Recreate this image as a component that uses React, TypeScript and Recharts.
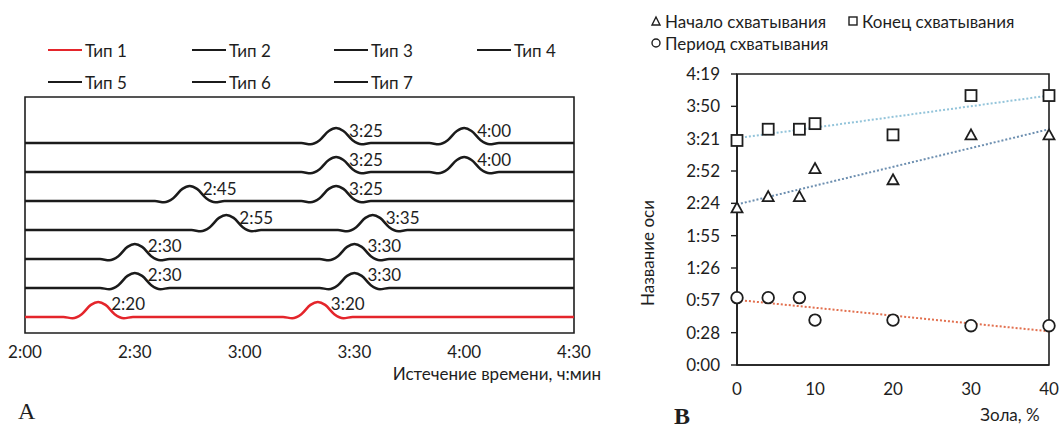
import React from "react";
import {
  LineChart,
  ComposedChart,
  Line,
  Scatter,
  XAxis,
  YAxis,
  ReferenceArea,
  LabelList,
} from "recharts";

// panel A: time of the two peaks per type, minutes since 0:00
const typeNames = ["Тип 1", "Тип 2", "Тип 3", "Тип 4", "Тип 5", "Тип 6", "Тип 7"];
const typeColors = ["#e4252b", "#1b1b1b", "#1b1b1b", "#1b1b1b", "#1b1b1b", "#1b1b1b", "#1b1b1b"];
const startPeaks = [140, 150, 150, 175, 165, 205, 205];
const endPeaks = [200, 210, 210, 215, 205, 240, 240];

// shape of one bump (minutes from peak, height in row units)
const bumpDt = [-9.5, -7, -4.5, -2, 0, 2, 4.5, 7, 9.5];
const bumpDy = [0, -0.04, 0.1, 0.42, 0.52, 0.42, 0.1, -0.04, 0];

const timeTicksA = [120, 150, 180, 210, 240, 270];
const timeLabelsA = ["2:00", "2:30", "3:00", "3:30", "4:00", "4:30"];

// panel B: ash content vs setting times (minutes)
const ashPct = [0, 4, 8, 10, 20, 30, 40];
const setStart = [140, 150, 150, 175, 165, 205, 205];
const setEnd = [200, 210, 210, 215, 205, 240, 240];
const setPeriod = [60, 60, 60, 40, 40, 35, 35];

const trendX = [0, 40];
const trendStart = [143, 210];
const trendEnd = [202, 240];
const trendPeriod = [58, 30];

const yTicksB = [0, 28.8, 57.6, 86.4, 115.2, 144, 172.8, 201.6, 230.4, 259.2];
const yLabelsB = ["0:00", "0:28", "0:57", "1:26", "1:55", "2:24", "2:52", "3:21", "3:50", "4:19"];
const xTicksB = [0, 10, 20, 30, 40];

const FONT = "Lato, 'Open Sans', sans-serif";
const INK = "#1e1e1e";
const FS = 17;

function hm(min: number) {
  const h = Math.floor(min / 60);
  const m = Math.floor(min % 60);
  return `${h}:${m < 10 ? "0" : ""}${m}`;
}

function buildRow(level: number, peaks: number[]) {
  const pts: { t: number; v: number; tag?: string }[] = [{ t: 120, v: level }];
  peaks.forEach((p) =>
    bumpDt.forEach((dt, i) =>
      pts.push({ t: p + dt, v: level + bumpDy[i], tag: dt === 0 ? hm(p) : undefined })
    )
  );
  pts.push({ t: 270, v: level });
  return pts;
}

const rows = typeNames.map((name, i) => ({
  name,
  color: typeColors[i],
  data: buildRow(i + 1, [startPeaks[i], endPeaks[i]]),
}));

const zip = (xs: number[], ys: number[]) => xs.map((x, i) => ({ x, y: ys[i] }));

function PeakLabel(p: any) {
  if (!p.value) return null;
  return (
    <text x={p.x + 13} y={p.y + 2} dominantBaseline="central" fontSize={FS} fontFamily={FONT} fill={INK}>
      {p.value}
    </text>
  );
}

function Tri(p: any) {
  const { cx, cy } = p;
  return (
    <path
      d={`M${cx},${cy - 5.5} L${cx + 5.5},${cy + 4.5} L${cx - 5.5},${cy + 4.5} Z`}
      fill="#fff"
      stroke={INK}
      strokeWidth={1.8}
    />
  );
}
function Sq(p: any) {
  const { cx, cy } = p;
  return <rect x={cx - 5.5} y={cy - 5.5} width={11} height={11} fill="#fff" stroke={INK} strokeWidth={1.8} />;
}
function Circ(p: any) {
  const { cx, cy } = p;
  return <circle cx={cx} cy={cy} r={5.8} fill="#fff" stroke={INK} strokeWidth={1.8} />;
}

const legendCols = [48, 192, 334, 477];
const legendRows = [50, 82];

const legendB = [
  { name: "Начало схватывания", left: 650, top: 21, mark: <path d="M6,2 L10,10 L2,10 Z" /> },
  { name: "Конец схватывания", left: 847, top: 21, mark: <rect x={2} y={2} width={8} height={8} /> },
  { name: "Период схватывания", left: 650, top: 43, mark: <circle cx={6} cy={6} r={4} /> },
];

export default function App() {
  return (
    <div style={{ position: "relative", width: 1061, height: 432, background: "#fff", fontFamily: FONT, color: INK }}>
      <style>{"body{margin:0}"}</style>

      {/* panel A legend */}
      {rows.map((r, i) => (
        <div
          key={r.name}
          style={{
            position: "absolute",
            left: legendCols[i % 4],
            top: legendRows[Math.floor(i / 4)] - 11,
            height: 22,
            display: "flex",
            alignItems: "center",
            fontSize: FS,
            whiteSpace: "nowrap",
          }}
        >
          <span style={{ display: "inline-block", width: 34, height: 2.5, background: r.color, marginRight: 3 }} />
          {r.name}
        </div>
      ))}

      <div style={{ position: "absolute", left: 0, top: 0 }}>
        <LineChart width={620} height={432} margin={{ top: 97, left: 25, right: 46, bottom: 69 }}>
          <XAxis
            dataKey="t"
            type="number"
            domain={[120, 270]}
            ticks={timeTicksA}
            interval={0}
            tickFormatter={(v) => timeLabelsA[timeTicksA.indexOf(v)]}
            axisLine={false}
            tickLine={false}
            tickMargin={7}
            tick={{ fontSize: FS, fill: INK, fontFamily: FONT }}
            allowDuplicatedCategory={false}
          />
          <YAxis hide type="number" domain={[0.45, 8.59]} />
          <ReferenceArea x1={120} x2={270} y1={0.45} y2={8.59} fill="none" stroke={INK} strokeWidth={1.6} />
          {rows.map((r) => (
            <Line
              key={r.name}
              data={r.data}
              dataKey="v"
              type="monotone"
              stroke={r.color}
              strokeWidth={2.5}
              dot={false}
              isAnimationActive={false}
            >
              <LabelList dataKey="tag" content={PeakLabel} />
            </Line>
          ))}
        </LineChart>
      </div>
      <div
        style={{
          position: "absolute",
          right: 1061 - 601,
          top: 365,
          fontSize: FS,
          lineHeight: "17px",
          whiteSpace: "nowrap",
        }}
      >
        Истечение времени, ч:мин
      </div>
      <div style={{ position: "absolute", left: 18, top: 398, fontSize: 24, fontFamily: "'Liberation Serif', serif" }}>A</div>

      {/* panel B legend */}
      {legendB.map((l) => (
        <div
          key={l.name}
          style={{
            position: "absolute",
            left: l.left,
            top: l.top - 11,
            height: 22,
            fontSize: FS,
            whiteSpace: "nowrap",
            display: "flex",
            alignItems: "center",
          }}
        >
          <svg width={12} height={12} style={{ marginRight: 3 }}>
            <g fill="none" stroke={INK} strokeWidth={1.4}>
              {l.mark}
            </g>
          </svg>
          {l.name}
        </div>
      ))}

      <div style={{ position: "absolute", left: 600, top: 0 }}>
        <ComposedChart width={461} height={432} margin={{ top: 74, left: 0, right: 12, bottom: 37 }}>
          <XAxis
            dataKey="x"
            type="number"
            domain={[0, 40]}
            ticks={xTicksB}
            interval={0}
            axisLine={{ stroke: INK, strokeWidth: 1.6 }}
            tickLine={false}
            tickMargin={12}
            tick={{ fontSize: FS, fill: INK, fontFamily: FONT }}
          />
          <YAxis
            dataKey="y"
            type="number"
            width={137}
            domain={[0, 259.2]}
            ticks={yTicksB}
            interval={0}
            tickFormatter={(v) => yLabelsB[yTicksB.indexOf(v)]}
            axisLine={{ stroke: INK, strokeWidth: 1.6 }}
            tickLine={{ stroke: INK, strokeWidth: 1.4 }}
            tickSize={6}
            tickMargin={11}
            tick={{ fontSize: FS, fill: INK, fontFamily: FONT }}
          />
          <ReferenceArea x1={0} x2={40} y1={0} y2={259.2} fill="none" stroke={INK} strokeWidth={1.6} />
          <Line data={zip(trendX, trendEnd)} dataKey="y" type="linear" stroke="#93c4da" strokeWidth={2} strokeDasharray="2 2" dot={false} isAnimationActive={false} />
          <Line data={zip(trendX, trendStart)} dataKey="y" type="linear" stroke="#6d8fb0" strokeWidth={2} strokeDasharray="2 2" dot={false} isAnimationActive={false} />
          <Line data={zip(trendX, trendPeriod)} dataKey="y" type="linear" stroke="#e2704f" strokeWidth={2} strokeDasharray="2 2" dot={false} isAnimationActive={false} />
          <Scatter data={zip(ashPct, setStart)} shape={Tri} isAnimationActive={false} />
          <Scatter data={zip(ashPct, setEnd)} shape={Sq} isAnimationActive={false} />
          <Scatter data={zip(ashPct, setPeriod)} shape={Circ} isAnimationActive={false} />
        </ComposedChart>
      </div>
      <div
        style={{
          position: "absolute",
          left: 647,
          top: 253,
          fontSize: FS,
          whiteSpace: "nowrap",
          transform: "translate(-50%, -50%) rotate(-90deg)",
        }}
      >
        Название оси
      </div>
      <div style={{ position: "absolute", left: 1010, top: 414, fontSize: FS, whiteSpace: "nowrap", transform: "translate(-50%, -50%)" }}>
        Зола, %
      </div>
      <div style={{ position: "absolute", left: 674, top: 403, fontSize: 24, fontWeight: "bold", fontFamily: "'Liberation Serif', serif" }}>B</div>
    </div>
  );
}
